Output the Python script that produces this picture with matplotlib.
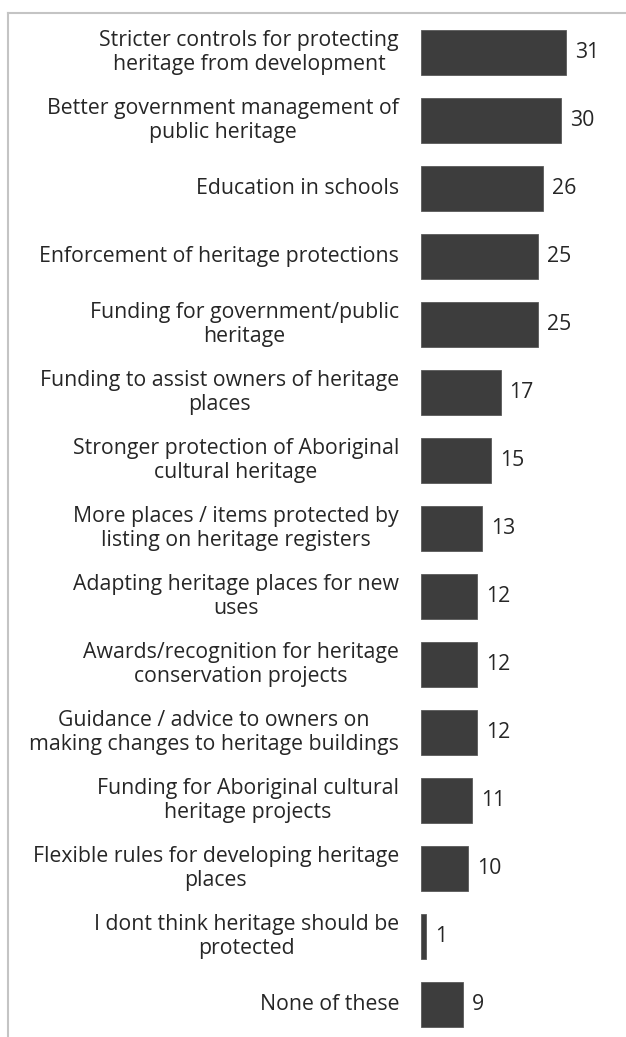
import matplotlib
matplotlib.use("Agg")
import matplotlib.pyplot as plt
from matplotlib.lines import Line2D

# survey responses (% of respondents)
labels = [
    "Stricter controls for protecting\nheritage from development",
    "Better government management of\npublic heritage",
    "Education in schools",
    "Enforcement of heritage protections",
    "Funding for government/public\nheritage",
    "Funding to assist owners of heritage\nplaces",
    "Stronger protection of Aboriginal\ncultural heritage",
    "More places / items protected by\nlisting on heritage registers",
    "Adapting heritage places for new\nuses",
    "Awards/recognition for heritage\nconservation projects",
    "Guidance / advice to owners on\nmaking changes to heritage buildings",
    "Funding for Aboriginal cultural\nheritage projects",
    "Flexible rules for developing heritage\nplaces",
    "I dont think heritage should be\nprotected",
    "None of these",
]
values = [31, 30, 26, 25, 25, 17, 15, 13, 12, 12, 12, 11, 10, 1, 9]

W, H = 626, 1037
fig = plt.figure(figsize=(W / 100, H / 100), dpi=100)

left_px = 421
px_per_unit = 4.68
row_px = 68
first_center = 52.5

ax = fig.add_axes([left_px / W, 0, 1 - left_px / W, 1])
ypos = list(range(len(values)))
ax.barh(ypos, values, height=45 / row_px, color="#3d3d3d", edgecolor="#5a5a5a", linewidth=0.6)
ax.set_xlim(0, (W - left_px) / px_per_unit)
ax.set_ylim((H - first_center) / row_px, -first_center / row_px)
ax.axis("off")

txt_font = dict(family=["Open Sans", "DejaVu Sans"], size=15.3, color="#262626")
for y, lab, v in zip(ypos, labels, values):
    ax.annotate(lab, xy=(0, y), xytext=(-22, 0), textcoords="offset pixels",
                ha="right", va="center", multialignment="center",
                linespacing=1.24, **txt_font)
    ax.annotate(str(v), xy=(v, y), xytext=(9, 0), textcoords="offset pixels",
                ha="left", va="center", **txt_font)

# light frame along the top and left edge
fc = "#c4c4c4"
fig.add_artist(Line2D([8 / W, 8 / W], [0, 1 - 13 / H], transform=fig.transFigure, color=fc, lw=1.5))
fig.add_artist(Line2D([8 / W, 1], [1 - 13 / H, 1 - 13 / H], transform=fig.transFigure, color=fc, lw=1.5))

fig.savefig("out.png", dpi=100)
